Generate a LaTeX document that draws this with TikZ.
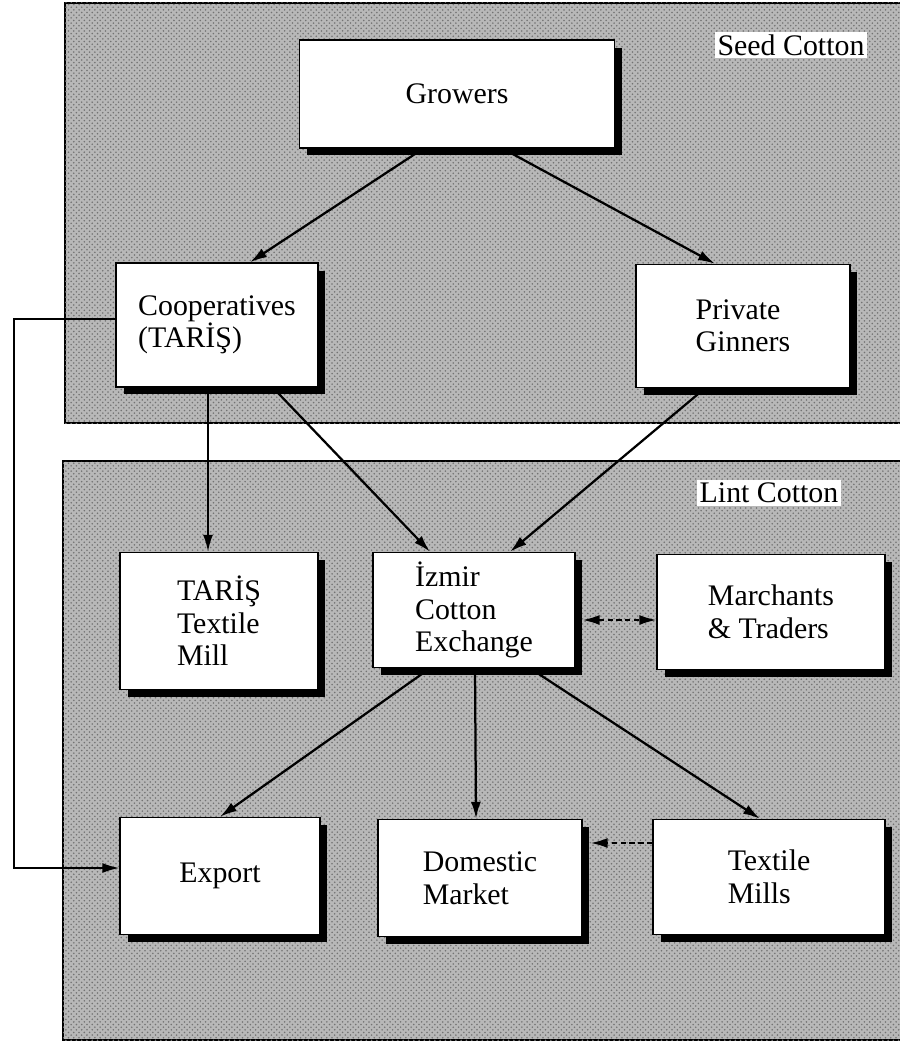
\documentclass[tikz,border=0pt]{standalone}
\usepackage{fontspec}
\setmainfont{Liberation Serif}
\usetikzlibrary{arrows.meta}
\usetikzlibrary{calc}
\usetikzlibrary{shadows}
\usetikzlibrary{patterns}
\tikzset{>={Latex[length=3.4mm,width=2mm]}}
\definecolor{paneltone}{gray}{0.72}
\tikzstyle{panel}=[draw=black,line width=0.35mm,fill=paneltone,
  postaction={pattern=crosshatch dots,pattern color=black!55}]
\tikzstyle{flowbox}=[draw=black,fill=white,line width=0.3mm,align=left,inner sep=0pt,
  font=\fontsize{17}{18.5}\selectfont,
  drop shadow={shadow xshift=0.15cm,shadow yshift=-0.15cm,fill=black,opacity=1}]
\tikzstyle{zonelabel}=[fill=white,inner sep=1.5pt,font=\fontsize{17}{18.5}\selectfont]
\tikzstyle{flow}=[->,line width=0.45mm]
\tikzstyle{sideflow}=[<->,line width=0.35mm,dash pattern=on 3pt off 2pt]

\begin{document}
\begin{tikzpicture}[x=0.02cm,y=-0.02cm]
  \useasboundingbox (0,0) rectangle (899,1043);
  % seed cotton and lint cotton zones
  \draw[panel] (65,3) rectangle (910,423);
  \draw[panel] (63,461) rectangle (910,1040);
  \node[zonelabel] (seedlbl) at (791,45) {Seed Cotton};
  \node[zonelabel] (lintlbl) at (769,493) {Lint Cotton};

  \node[flowbox,minimum width=6.3cm,minimum height=2.16cm] (grow) at (457,94) {Growers};
  \node[flowbox,minimum width=4.04cm,minimum height=2.48cm] (coop) at (217,325) {Cooperatives\\(TARİŞ)};
  \node[flowbox,minimum width=4.28cm,minimum height=2.46cm] (priv) at (743,326) {Private\\Ginners};

  \node[flowbox,minimum width=3.96cm,minimum height=2.74cm] (tmill) at (219,621) {TARİŞ\\Textile\\Mill};
  \node[flowbox,minimum width=4.04cm,minimum height=2.3cm] (izmir) at (474,610) {İzmir\\Cotton\\Exchange};
  \node[flowbox,minimum width=4.56cm,minimum height=2.3cm] (merch) at (771,612) {Marchants\\\& Traders};

  \node[flowbox,minimum width=4.0cm,minimum height=2.34cm] (export) at (220,876) {Export};
  \node[flowbox,minimum width=4.08cm,minimum height=2.34cm] (dom) at (480,878) {Domestic\\Market};
  \node[flowbox,minimum width=4.64cm,minimum height=2.3cm] (tmills) at (769,877) {Textile\\Mills};

  \draw[flow] ($(grow.south)+(-34,0)$) -- ($(coop.north)+(33,0)$);
  \draw[flow] ($(grow.south)+(46,0)$) -- ($(priv.north)+(-28,0)$);
  \draw[flow] ($(coop.south)+(-9,0)$) -- ($(tmill.north)+(-11,0)$);
  \draw[flow] ($(coop.south)+(56,0)$) -- ($(izmir.north)+(-44,0)$);
  \draw[flow] ($(priv.south)+(-38,0)$) -- ($(izmir.north)+(36,0)$);
  \draw[sideflow] ($(izmir.east)+(7,10)$) -- ($(merch.west)+(0,8)$);
  \draw[flow] ($(izmir.south)+(-44,0)$) -- (export.north);
  \draw[flow] ($(izmir.south)+(1,0)$) -- ($(dom.north)+(-4,0)$);
  \draw[flow] ($(izmir.south)+(56,0)$) -- ($(tmills.north)+(-9,0)$);
  \draw[->,line width=0.35mm,dash pattern=on 3pt off 2pt] ($(tmills.west)+(0,-34)$) -- ($(dom.east)+(8,-35)$);
  \draw[->,line width=0.35mm] ($(coop.west)+(0,-6)$) -- ++(-101,0) |- ($(export.west)+(0,-8)$);
\end{tikzpicture}
\end{document}
